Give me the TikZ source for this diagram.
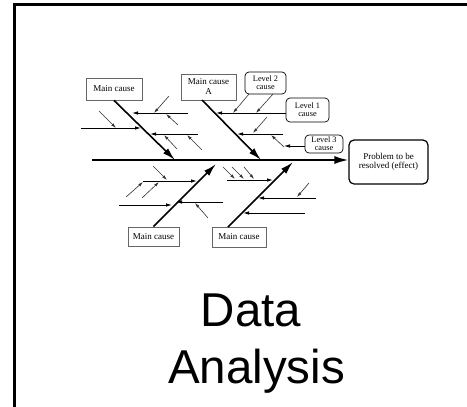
\documentclass[tikz,border=0pt]{standalone}
\usepackage{fontspec}
\setmainfont{Liberation Serif}
\newfontfamily\titlefont{Liberation Sans}
\usetikzlibrary{arrows.meta, positioning}

\begin{document}
\begin{tikzpicture}[x=1pt, y=-1pt,
            cause/.style={draw=black!60, line width=0.8pt, font=\fontsize{9}{10}\selectfont, inner sep=1pt, align=center},
            level/.style={draw, rounded corners=4pt, line width=0.7pt, font=\fontsize{8.3}{8}\selectfont, inner sep=1pt, align=center},
            effect/.style={draw, rounded corners=5pt, line width=1.2pt, font=\fontsize{9}{9.5}\selectfont, inner sep=1pt, align=center},
            title/.style={font=\titlefont\fontsize{47.5}{57}\selectfont, inner sep=0pt},
            spine/.style={line width=1.8pt, -{Latex[length=14pt, width=8pt]}},
            bone/.style={line width=1.6pt, -{Latex[length=13pt, width=7pt]}},
            twig/.style={line width=0.9pt, -{Latex[length=6pt, width=3.5pt]}},
            leaf/.style={line width=0.6pt, draw=black!80, -{Latex[length=5pt, width=3pt]}}
        ]
            \useasboundingbox (0,0) rectangle (467,407);

            % Frame
            \draw[line width=3pt] (14.5,407) -- (14.5,4.5) -- (467,4.5);

            % Cause boxes
            \node[cause, minimum width=56pt, minimum height=22pt] (mc1) at (114, 89) {Main cause};
            \node[cause, minimum width=55pt, minimum height=26pt] (mcA) at (208.5, 87) {Main cause\\A};
            \node[cause, minimum width=51pt, minimum height=19pt] (mc3) at (153.5, 236.5) {Main cause};
            \node[cause, minimum width=54pt, minimum height=20pt] (mc4) at (239, 237) {Main cause};

            % Level boxes
            \node[level, minimum width=41pt, minimum height=22pt] (lv2) at (265.5, 83) {Level 2\\cause};
            \node[level, minimum width=43pt, minimum height=24pt] (lv1) at (307.5, 110) {Level 1\\cause};
            \node[level, minimum width=38pt, minimum height=18pt] (lv3) at (324, 144) {Level 3\\cause};

            % Effect box
            \node[effect, minimum width=79pt, minimum height=44pt] (eff) at (388.5, 162) {Problem to be\\resolved (effect)};

            % Spine
            \coordinate (tail) at (92, 160);
            \draw[spine] (tail) -- (tail -| eff.west);

            % Main bones
            \coordinate (b1e) at (175, 160);
            \coordinate (b2s) at (202, 100);
            \coordinate (b2e) at (261, 160);
            \coordinate (b3e) at (216, 164);
            \coordinate (b4s) at (228, 227);
            \coordinate (b4e) at (293, 162);
            \draw[bone] (mc1.south) -- (b1e);
            \draw[bone] (b2s) -- (b2e);
            \draw[bone] (mc3.north) -- (b3e);
            \draw[bone] (b4s) -- (b4e);

            % Twigs, upper left bone
            \coordinate (ula) at (188, 113); \coordinate (ulaT) at (132, 113);
            \coordinate (ulb) at (81, 128);  \coordinate (ulbT) at (141, 128);
            \coordinate (ulc) at (198, 134); \coordinate (ulcT) at (150, 134);
            % Twigs, bone A
            \coordinate (uaa) at (286, 113); \coordinate (uaaT) at (216, 113);
            \coordinate (uab) at (283, 134); \coordinate (uabT) at (237, 134);
            % Twigs, lower left bone
            \coordinate (lla) at (143, 181); \coordinate (llaT) at (197, 181);
            \coordinate (llb) at (119, 205); \coordinate (llbT) at (172, 205);
            \coordinate (llc) at (223, 202); \coordinate (llcT) at (176, 202);
            % Twigs, lower right bone
            \coordinate (lra) at (227, 180); \coordinate (lraT) at (273, 180);
            \coordinate (lrb) at (316, 198); \coordinate (lrbT) at (258, 198);
            \coordinate (lrc) at (305, 213); \coordinate (lrcT) at (243, 213);
            \foreach \a in {ula, ulb, ulc, uaa, uab, lla, llb, llc, lra, lrb, lrc}
                \draw[twig] (\a) -- (\a T);

            % Level 3 link
            \coordinate (l3s) at (305, 146); \coordinate (l3T) at (284, 146);
            \draw[twig, line width=0.7pt] (l3s) -- (l3T);

            % Leaves
            \coordinate (ula1) at (169, 96);  \coordinate (ula1T) at (154, 113);
            \coordinate (ula2) at (178, 125); \coordinate (ula2T) at (166, 114);
            \coordinate (ulb1) at (99, 111);  \coordinate (ulb1T) at (116, 128);
            \coordinate (ulc1) at (177, 149); \coordinate (ulc1T) at (164, 135);
            \coordinate (ulc2) at (202, 150); \coordinate (ulc2T) at (187, 135);
            \coordinate (uaa1) at (249, 94);  \coordinate (uaa1T) at (233, 113);
            \coordinate (uaa2) at (273, 94);  \coordinate (uaa2T) at (256, 113);
            \coordinate (uab1) at (267, 117); \coordinate (uab1T) at (253, 133);
            \coordinate (uab2) at (284, 147); \coordinate (uab2T) at (271, 135);
            \coordinate (lla1) at (153, 166); \coordinate (lla1T) at (167, 180);
            \coordinate (lla2) at (126, 197); \coordinate (lla2T) at (143, 182);
            \coordinate (lla3) at (142, 198); \coordinate (lla3T) at (159, 182);
            \coordinate (llc1) at (208, 218); \coordinate (llc1T) at (195, 203);
            \coordinate (lra1) at (223, 167); \coordinate (lra1T) at (235, 179);
            \coordinate (lra2) at (232, 167); \coordinate (lra2T) at (244, 179);
            \coordinate (lra3) at (244, 167); \coordinate (lra3T) at (254, 179);
            \coordinate (lrb1) at (309, 183); \coordinate (lrb1T) at (297, 197);
            \foreach \a in {ula1, ula2, ulb1, ulc1, ulc2, uaa1, uaa2, uab1, uab2, lla1, lla2, lla3, llc1, lra1, lra2, lra3, lrb1}
                \draw[leaf] (\a) -- (\a T);

            % Title
            \node[title, anchor=base] (ttl1) at (251, 326) {Data};
            \node[title, anchor=base] (ttl2) at (256.5, 383) {Analysis};
        \end{tikzpicture}
\end{document}
